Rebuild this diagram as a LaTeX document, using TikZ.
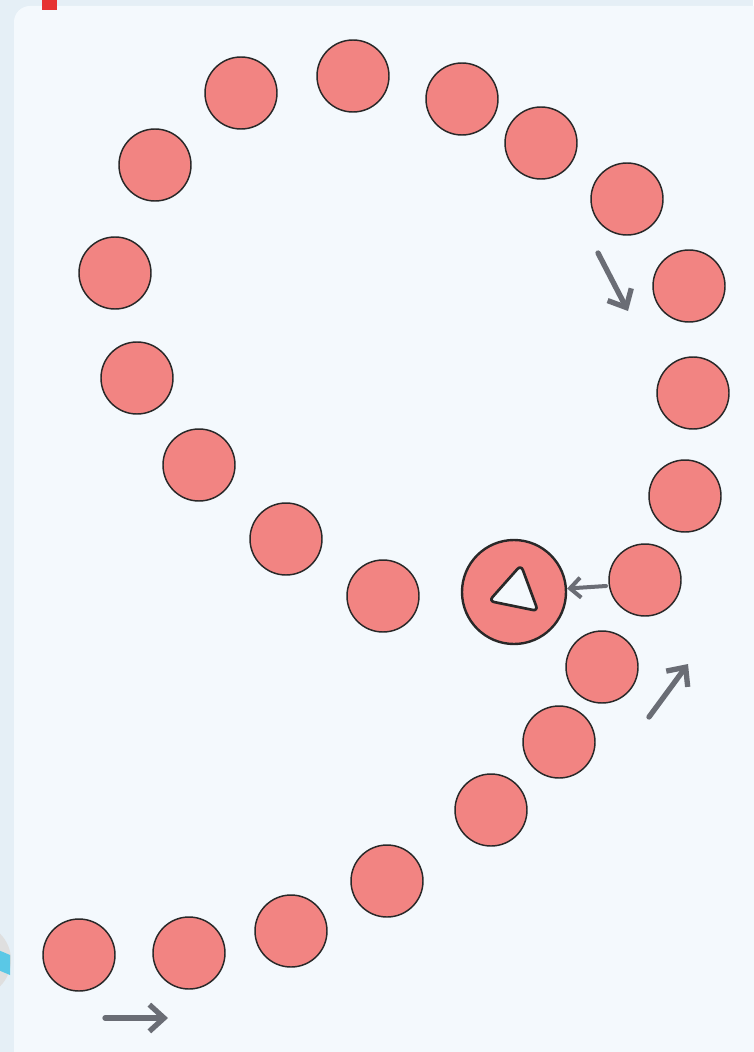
\documentclass[tikz,border=0pt]{standalone}
\usetikzlibrary{arrows.meta}
\definecolor{pagebg}{RGB}{229,239,246}
\definecolor{panelbg}{RGB}{244,249,253}
\definecolor{dotred}{RGB}{242,132,130}
\definecolor{inkdark}{RGB}{40,40,40}
\definecolor{arrowgray}{RGB}{106,109,117}
\definecolor{markred}{RGB}{230,50,50}
\definecolor{iconcyan}{RGB}{90,200,230}
\begin{document}
\begin{tikzpicture}[x=0.75pt,y=-0.75pt]
        \tikzset{
            dot/.style={circle,minimum size=54pt,inner sep=0pt,fill=dotred,draw=inkdark,line width=1.1pt},
            goal/.style={circle,minimum size=78pt,inner sep=0pt,fill=dotred,draw=inkdark,line width=1.8pt},
            hint/.style={-{Straight Barb[length=11pt,width=20pt,line width=4pt]},draw=arrowgray,line width=4pt,line cap=round}
            }

            \useasboundingbox (0,0) rectangle (753,1052);
            \fill[pagebg] (0,0) rectangle (753,1052);
            \fill[panelbg,rounded corners=12pt] (14,6) rectangle (790,1090);
            \fill[markred] (42,0) rectangle (57,10);
            \begin{scope}
                \clip (0,0) rectangle (753,1052);
                \fill[gray!25] (-26,960) circle (37);
                \fill[iconcyan] (-30,938) -- (10,955) -- (10,975) -- (-30,958) -- cycle;
            \end{scope}

            \node[dot] (n1) at (79,955) {};
            \node[dot] (n2) at (189,953) {};
            \node[dot] (n3) at (291,931) {};
            \node[dot] (n4) at (387,881) {};
            \node[dot] (n5) at (491,810) {};
            \node[dot] (n6) at (559,742) {};
            \node[dot] (n7) at (602,667) {};
            \node[dot] (n8) at (645,580) {};
            \node[dot] (n9) at (685,496) {};
            \node[dot] (n10) at (693,393) {};
            \node[dot] (n11) at (689,286) {};
            \node[dot] (n12) at (627,199) {};
            \node[dot] (n13) at (541,143) {};
            \node[dot] (n14) at (462,99) {};
            \node[dot] (n15) at (353,76) {};
            \node[dot] (n16) at (241,93) {};
            \node[dot] (n17) at (155,165) {};
            \node[dot] (n18) at (115,273) {};
            \node[dot] (n19) at (137,378) {};
            \node[dot] (n20) at (199,465) {};
            \node[dot] (n21) at (286,539) {};
            \node[dot] (n22) at (383,596) {};
            \node[goal] (g) at (514,592) {};
            \draw[fill=panelbg,draw=inkdark,line width=2pt,rounded corners=4pt]
                (521,565) -- (538,611) -- (489,601) -- cycle;

            \coordinate (a1) at (105,1018);
            \coordinate (b1) at (168,1018);
            \coordinate (a2) at (598,253);
            \coordinate (b2) at (628,311);
            \coordinate (a3) at (649,717);
            \coordinate (b3) at (688,664);
            \coordinate (a4) at (606,586);

            \draw[hint] (a1) -- (b1);
            \draw[hint] (a2) -- (b2);
            \draw[hint] (a3) -- (b3);
            \draw[hint,line width=3pt,-{Straight Barb[length=8pt,width=15pt,line width=3pt]}] (a4) -- (g);
        \end{tikzpicture}
\end{document}
